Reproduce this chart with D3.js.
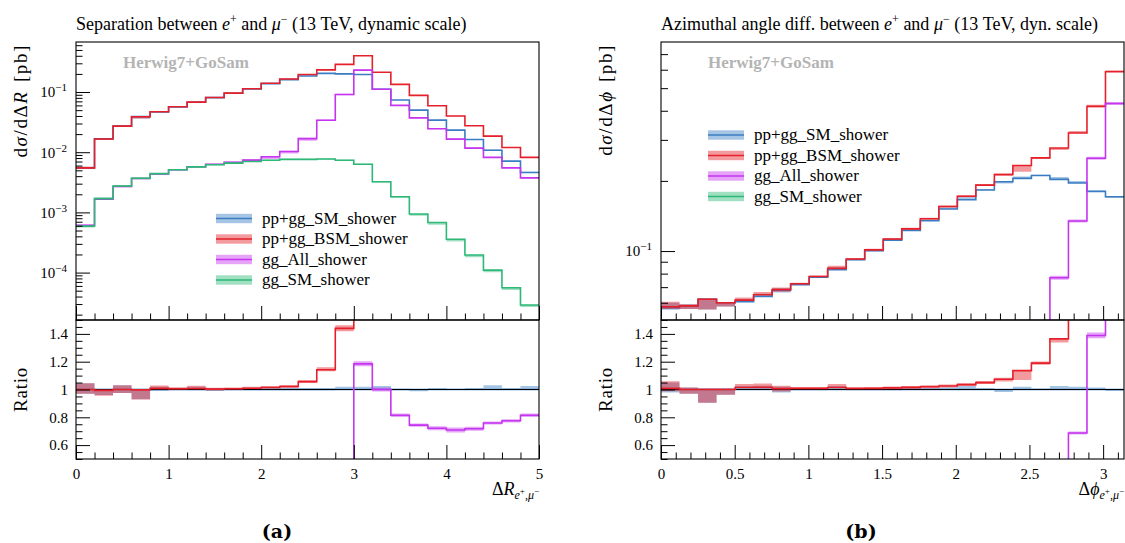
<!DOCTYPE html>
<html>
<head>
<meta charset="utf-8">
<script src="https://cdn.jsdelivr.net/npm/d3@7"></script>
<style>
  html, body { margin: 0; padding: 0; background: #fff; }
  svg { display: block; }
  text { font-family: "Liberation Serif", "DejaVu Serif", serif; fill: #000; }
</style>
</head>
<body>
<svg id="fig" width="1125" height="543"></svg>
<script>
// ---------------- data ----------------
const seriesNames = ["pp+gg_SM_shower", "pp+gg_BSM_shower", "gg_All_shower", "gg_SM_shower"];

// ΔR(e+, μ−) distribution, bin edges and dσ/dΔR [pb]
const dREdges = [0, 0.2, 0.4, 0.6, 0.8, 1.0, 1.2, 1.4, 1.6, 1.8, 2.0, 2.2, 2.4, 2.6, 2.8, 3.0,
                 3.2, 3.4, 3.6, 3.8, 4.0, 4.2, 4.4, 4.6, 4.8, 5.0];
const smDR    = [0.0055, 0.0167, 0.0271, 0.0390, 0.0466, 0.0567, 0.0675, 0.0808, 0.0955, 0.1125,
                 0.138, 0.161, 0.185, 0.204, 0.200, 0.195, 0.111, 0.0736, 0.0500, 0.0341,
                 0.0233, 0.0163, 0.0108, 0.0071, 0.0046];
const bsmDR   = [0.0055, 0.0166, 0.0271, 0.0389, 0.0470, 0.0570, 0.0680, 0.0810, 0.0960, 0.1135,
                 0.140, 0.1645, 0.1955, 0.233, 0.288, 0.400, 0.213, 0.134, 0.088, 0.059,
                 0.040, 0.0275, 0.0185, 0.0120, 0.0082];
const ggAllDR = [0.00061, 0.00165, 0.0027, 0.00365, 0.00435, 0.0051, 0.00575, 0.0063, 0.0068, 0.0074,
                 0.0084, 0.0103, 0.0168, 0.034, 0.091, 0.231, 0.111, 0.060, 0.0372, 0.0246,
                 0.0165, 0.0117, 0.0082, 0.0055, 0.00375];
const ggSmDR  = [0.00059, 0.0017, 0.00275, 0.0037, 0.0044, 0.0051, 0.0057, 0.0062, 0.0066, 0.0070,
                 0.00735, 0.0076, 0.0076, 0.0077, 0.00735, 0.0063, 0.00323, 0.00182, 0.00094, 0.00068,
                 0.000357, 0.000196, 0.00011, 0.000056, 0.000029];
// scale-variation envelopes as [down, up] fractions of the central value
const smBandDR    = [[.03,.045],[.04,.005],[.025,.03],[.07,.005],[.01,.02],[.005,.01],[.005,.02],[.01,.01],[.005,.01],[.005,.01],
                     [.005,.01],[.005,.01],[.005,.01],[.005,.01],[0,.02],[0,.02],[0,.025],[.005,.005],[.012,0],[0,.01],
                     [0,.005],[0,.01],[0,.03],[0,.01],[0,.025]];
const bsmBandDR   = [[.03,.045],[.04,.005],[.025,.03],[.07,.005],[.01,.02],[.005,.01],[.005,.02],[.01,.01],[.005,.01],[.005,.01],
                     [.005,.01],[.01,.01],[.01,.01],[.01,.015],[.015,.015],[.01,.02],[.01,.01],[.01,.01],[.01,.01],[.01,.01],
                     [.01,.01],[.01,.01],[.01,.01],[.01,.01],[.01,.01]];
const ggAllBandDR = [[.03,.03],[.03,.03],[.03,.03],[.03,.03],[.03,.03],[.02,.02],[.02,.02],[.02,.02],[.05,.03],[.06,.03],
                     [.08,.02],[.08,.03],[.08,.04],[.03,.03],[.03,.03],[.015,.015],[.015,.015],[.015,.015],[.015,.015],[.02,.02],
                     [.025,.025],[.02,.02],[.015,.015],[.015,.015],[.015,.015]];
const ggSmBandDR  = [[.05,.05],[.05,.05],[.04,.04],[.04,.04],[.02,.02],[.02,.02],[.02,.02],[.02,.02],[.02,.02],[.02,.02],
                     [.02,.02],[.02,.02],[.02,.02],[.02,.02],[.02,.02],[.02,.02],[.03,.01],[.04,0],[.06,0],[.08,0],
                     [.08,0],[.08,0],[.08,0],[.08,0],[.08,0]];

// Δφ(e+, μ−) distribution, 25 equal bins on [0, π], dσ/dΔφ [pb]
const dPhiEdges = d3.range(26).map(k => k * Math.PI / 25);
const smDPhi    = [0.0572, 0.0582, 0.0621, 0.0600, 0.0607, 0.0639, 0.0679, 0.0718, 0.0772, 0.0831,
                   0.0918, 0.1004, 0.1114, 0.1226, 0.1350, 0.1515, 0.1660, 0.1828, 0.1983, 0.2050,
                   0.2110, 0.2030, 0.1960, 0.1800, 0.1710];
const bsmDPhi   = [0.0577, 0.0582, 0.0621, 0.0600, 0.0616, 0.0649, 0.0684, 0.0724, 0.0778, 0.0843,
                   0.0925, 0.1012, 0.1127, 0.1245, 0.1377, 0.1553, 0.1718, 0.1919, 0.2130, 0.2329,
                   0.2510, 0.2770, 0.3210, 0.4180, 0.5880];
const ggAllDPhi = [0.0061, 0.0062, 0.0064, 0.0066, 0.0068, 0.0071, 0.0075, 0.0079, 0.0084, 0.0090,
                   0.0097, 0.0106, 0.0117, 0.0131, 0.0149, 0.0172, 0.0203, 0.0245, 0.0302, 0.0378,
                   0.0475, 0.0768, 0.1346, 0.250, 0.430];
const ggSmDPhi  = [0.0060, 0.0061, 0.0062, 0.0064, 0.0066, 0.0068, 0.0071, 0.0074, 0.0078, 0.0082,
                   0.0087, 0.0092, 0.0098, 0.0104, 0.0110, 0.0116, 0.0121, 0.0126, 0.0130, 0.0133,
                   0.0135, 0.0136, 0.0135, 0.0133, 0.0131];
const smBandDPhi    = [[.022,.05],[.03,.015],[.096,.007],[.037,.007],[0,.025],[0,.027],[.022,.02],[.005,.01],[.005,.01],[0,.025],
                       [.005,.01],[.005,.01],[.005,.01],[0,.01],[0,.01],[0,.015],[0,.025],[0,.01],[.018,0],[0,.02],
                       [0,.007],[0,.025],[0,.02],[0,.015],[.01,0]];
const bsmBandDPhi   = [[.022,.05],[.03,.015],[.096,.007],[.037,.007],[0,.025],[0,.027],[.022,.02],[.005,.01],[.005,.01],[0,.025],
                       [.005,.01],[.005,.01],[.01,.01],[.01,.01],[.01,.01],[.01,.01],[.01,.01],[.01,.01],[.015,.01],[.06,0],
                       [.01,.01],[.02,0],[0,.02],[.015,.015],[0,.015]];
const ggAllBandDPhi = [[.02,.02],[.02,.02],[.02,.02],[.02,.02],[.02,.02],[.02,.02],[.02,.02],[.02,.02],[.02,.02],[.02,.02],
                       [.02,.02],[.02,.02],[.02,.02],[.02,.02],[.02,.02],[.02,.02],[.02,.02],[.02,.02],[.02,.02],[.02,.02],
                       [.02,.02],[.02,.02],[.015,.015],[.015,.015],[.015,.015]];
const ggSmBandDPhi  = [[.03,.03],[.03,.03],[.03,.03],[.03,.03],[.03,.03],[.03,.03],[.03,.03],[.03,.03],[.03,.03],[.03,.03],
                       [.03,.03],[.03,.03],[.03,.03],[.03,.03],[.03,.03],[.03,.03],[.03,.03],[.03,.03],[.03,.03],[.03,.03],
                       [.03,.03],[.03,.03],[.03,.03],[.03,.03],[.03,.03]];

// tick values
const dRTicks    = [0, 1, 2, 3, 4, 5];
const dPhiTicks  = [0, 0.5, 1, 1.5, 2, 2.5, 3];
const ratioTicks = [0.6, 0.8, 1, 1.2, 1.4];

// ---------------- style ----------------
const seriesColors = ["#3a7cc2", "#e5202a", "#c535f0", "#2db877"];
const SERIF = '"Liberation Serif", "DejaVu Serif", serif';
const FS_TICK = 15, FS_LEG = 17, FS_LAB = 18;

const svg = d3.select("#fig");

// Append a text made of styled runs: italic, size and vertical shift (px, downwards)
function rich(sel, parts) {
  let prev = 0;
  parts.forEach(p => {
    const s = p.shift || 0;
    const ts = sel.append("tspan").text(p.t);
    if (s !== prev) ts.attr("dy", s - prev);
    if (p.size) ts.attr("font-size", p.size);
    if (p.i) ts.attr("font-style", "italic");
    if (p.dx) ts.attr("dx", p.dx);
    prev = s;
  });
  return sel;
}

function stepPoints(edges, vals) {
  const pts = vals.map((v, i) => [edges[i], v]);
  pts.push([edges[edges.length - 1], vals[vals.length - 1]]);
  return pts;
}

function drawPanel(cfg) {
  const { x0, x1, top, mid, bot, id } = cfg;
  const x = d3.scaleLinear().domain(cfg.xDomain).range([x0, x1]);
  const y = d3.scaleLog().domain(cfg.yDomain).range([mid, top]);
  const yr = d3.scaleLinear().domain([0.5, 1.5]).range([bot, mid]);
  const g = svg.append("g");

  const defs = g.append("defs");
  defs.append("clipPath").attr("id", id + "-main")
    .append("rect").attr("x", x0).attr("y", top).attr("width", x1 - x0).attr("height", mid - top);
  defs.append("clipPath").attr("id", id + "-ratio")
    .append("rect").attr("x", x0).attr("y", mid).attr("width", x1 - x0).attr("height", bot - mid);

  const mainG = g.append("g").attr("clip-path", `url(#${id}-main)`);
  const ratioG = g.append("g").attr("clip-path", `url(#${id}-ratio)`);

  const edges = cfg.edges;
  const ref = cfg.series[0].vals;

  function drawHist(layer, ys, vals, lo, hi, color) {
    const pts = stepPoints(edges, vals);
    const loPts = stepPoints(edges, lo);
    const hiPts = stepPoints(edges, hi);
    const area = d3.area()
      .x(d => x(d[0]))
      .y0((d, i) => ys(loPts[i][1]))
      .y1((d, i) => ys(hiPts[i][1]))
      .curve(d3.curveStepAfter);
    layer.append("path").datum(pts).attr("d", area)
      .attr("fill", color).attr("fill-opacity", 0.45).attr("stroke", "none");
    const line = d3.line().x(d => x(d[0])).y(d => ys(d[1])).curve(d3.curveStepAfter);
    layer.append("path").datum(pts).attr("d", line)
      .attr("fill", "none").attr("stroke", color).attr("stroke-width", 1.6);
  }

  // main distributions
  cfg.series.forEach((s, k) => {
    const lo = s.vals.map((v, i) => v * (1 - s.band[i][0]));
    const hi = s.vals.map((v, i) => v * (1 + s.band[i][1]));
    drawHist(mainG, y, s.vals, lo, hi, seriesColors[k]);
  });

  // ratios to the SM prediction
  cfg.series.forEach((s, k) => {
    const r = s.vals.map((v, i) => v / ref[i]);
    const lo = s.vals.map((v, i) => v * (1 - s.band[i][0]) / ref[i]);
    const hi = s.vals.map((v, i) => v * (1 + s.band[i][1]) / ref[i]);
    drawHist(ratioG, yr, r, lo, hi, seriesColors[k]);
    if (k === 0) {
      ratioG.append("line").attr("x1", x0).attr("x2", x1)
        .attr("y1", yr(1)).attr("y2", yr(1)).attr("stroke", "#000").attr("stroke-width", 1);
    }
  });

  // ----- axes -----
  const axG = g.append("g");
  const yTicks = y.ticks();
  const yMajor = yTicks.filter(t => Math.abs(Math.log10(t) - Math.round(Math.log10(t))) < 1e-6);
  const yMinor = yTicks.filter(t => !yMajor.includes(t));
  axG.append("g").attr("transform", `translate(${x0},0)`)
    .call(d3.axisLeft(y).tickValues(yMinor).tickSizeInner(-cfg.minorLen).tickSizeOuter(0).tickFormat(""));
  const yMajAx = axG.append("g").attr("transform", `translate(${x0},0)`)
    .call(d3.axisLeft(y).tickValues(yMajor).tickSizeInner(-14).tickSizeOuter(0).tickPadding(9).tickFormat(""));
  yMajAx.selectAll(".tick text").each(function (d) {
    const e = Math.round(Math.log10(d));
    rich(d3.select(this), [{ t: "10" }, { t: "\u2212" + Math.abs(e), size: 11, shift: -6 }]);
  });

  // ratio y axis
  const rMinor = d3.range(0.5, 1.5001, 0.05).filter(t => !ratioTicks.some(m => Math.abs(m - t) < 1e-6));
  axG.append("g").attr("transform", `translate(${x0},0)`)
    .call(d3.axisLeft(yr).tickValues(rMinor).tickSizeInner(-6.5).tickSizeOuter(0).tickFormat(""));
  axG.append("g").attr("transform", `translate(${x0},0)`)
    .call(d3.axisLeft(yr).tickValues(ratioTicks).tickSizeInner(-14).tickSizeOuter(0).tickPadding(8)
      .tickFormat(d => String(d)));

  // x axes (bottom of main panel and of ratio panel)
  const xMinor = cfg.xMinor.filter(t => !cfg.xTicks.some(m => Math.abs(m - t) < 1e-6));
  [mid, bot].forEach((yy, j) => {
    axG.append("g").attr("transform", `translate(0,${yy})`)
      .call(d3.axisBottom(x).tickValues(xMinor).tickSizeInner(-6.5).tickSizeOuter(0).tickFormat(""));
    axG.append("g").attr("transform", `translate(0,${yy})`)
      .call(d3.axisBottom(x).tickValues(cfg.xTicks).tickSizeInner(-14).tickSizeOuter(0).tickPadding(9)
        .tickFormat(j === 1 ? (d => String(d)) : ""));
  });
  axG.selectAll(".domain").remove();
  axG.selectAll("g").attr("font-family", null).attr("font-size", null);
  axG.selectAll(".tick line").attr("stroke", "#000").attr("stroke-width", 1);
  axG.selectAll(".tick text").attr("font-size", FS_TICK).style("font-family", SERIF).attr("fill", "#000");

  // frames
  g.append("rect").attr("x", x0).attr("y", top).attr("width", x1 - x0).attr("height", mid - top)
    .attr("fill", "none").attr("stroke", "#000").attr("stroke-width", 1.1);
  g.append("rect").attr("x", x0).attr("y", mid).attr("width", x1 - x0).attr("height", bot - mid)
    .attr("fill", "none").attr("stroke", "#000").attr("stroke-width", 1.1);

  // title
  rich(g.append("text").attr("x", x0).attr("y", 30).attr("font-size", FS_LAB), cfg.title);

  // generator tag
  g.append("text").attr("x", cfg.tag[0]).attr("y", cfg.tag[1]).attr("font-size", 17)
    .attr("font-weight", "bold").style("fill", "#b4b4b4").text("Herwig7+GoSam");

  // y labels
  rich(g.append("text").attr("transform", `translate(${cfg.ylabX},44) rotate(-90)`)
    .attr("text-anchor", "end").attr("font-size", 19).attr("letter-spacing", 1.6), cfg.ylabel);
  g.append("text").attr("transform", `translate(${cfg.ylabX},${yr(1)}) rotate(-90)`)
    .attr("text-anchor", "middle").attr("font-size", 19).attr("letter-spacing", 0.8).text("Ratio");

  // x label
  rich(g.append("text").attr("x", x1).attr("y", 495).attr("text-anchor", "end").attr("font-size", FS_LAB), cfg.xlabel);

  // legend
  const leg = g.append("g");
  cfg.series.forEach((s, k) => {
    const cy = cfg.leg[1] + k * 20.5;
    leg.append("rect").attr("x", cfg.leg[0]).attr("y", cy - 4.7).attr("width", 36).attr("height", 9.4)
      .attr("fill", seriesColors[k]).attr("fill-opacity", 0.45);
    leg.append("line").attr("x1", cfg.leg[0]).attr("x2", cfg.leg[0] + 36).attr("y1", cy).attr("y2", cy)
      .attr("stroke", seriesColors[k]).attr("stroke-width", 1.6);
    leg.append("text").attr("x", cfg.leg[0] + 46).attr("y", cy + 5).attr("font-size", FS_LEG).text(s.name);
  });

  // caption
  g.append("text").attr("x", cfg.caption).attr("y", 538).attr("text-anchor", "middle")
    .attr("font-size", 19).attr("font-weight", "bold")
    .style("font-family", '"DejaVu Serif", serif').text(cfg.captionText);
}

const sub = 12, subSup = 9;
drawPanel({
  id: "dr", x0: 76, x1: 539, top: 42, mid: 320, bot: 459,
  xDomain: [0, 5], yDomain: [1.63e-5, 0.678],
  edges: dREdges,
  xTicks: dRTicks, xMinor: d3.range(0, 5.0001, 0.2), minorLen: 6.5,
  series: [
    { name: seriesNames[0], vals: smDR, band: smBandDR },
    { name: seriesNames[1], vals: bsmDR, band: bsmBandDR },
    { name: seriesNames[2], vals: ggAllDR, band: ggAllBandDR },
    { name: seriesNames[3], vals: ggSmDR, band: ggSmBandDR }
  ],
  title: [{ t: "Separation between " }, { t: "e", i: 1 }, { t: "+", size: 12, shift: -7 },
          { t: " and " }, { t: "\u03bc", i: 1 }, { t: "\u2212", size: 12, shift: -7 },
          { t: " (13 TeV, dynamic scale)" }],
  ylabel: [{ t: "d" }, { t: "\u03c3", i: 1 }, { t: "/d\u0394" }, { t: "R", i: 1 }, { t: " [pb]", dx: 2 }],
  xlabel: [{ t: "\u0394" }, { t: "R", i: 1 }, { t: "e", i: 1, size: sub, shift: 4 }, { t: "+", size: subSup, shift: -1 },
           { t: ",", size: sub, shift: 4 }, { t: "\u03bc", i: 1, size: sub, shift: 4 }, { t: "\u2212", size: subSup, shift: -1 }],
  ylabX: 27, tag: [123, 68], leg: [216, 218.5], caption: 277, captionText: "(a)"
});

drawPanel({
  id: "dphi", x0: 661, x1: 1124, top: 42, mid: 320, bot: 459,
  xDomain: [0, Math.PI], yDomain: [0.0506, 0.789],
  edges: dPhiEdges,
  xTicks: dPhiTicks, xMinor: d3.range(0, 3.1501, 0.1), minorLen: 7,
  series: [
    { name: seriesNames[0], vals: smDPhi, band: smBandDPhi },
    { name: seriesNames[1], vals: bsmDPhi, band: bsmBandDPhi },
    { name: seriesNames[2], vals: ggAllDPhi, band: ggAllBandDPhi },
    { name: seriesNames[3], vals: ggSmDPhi, band: ggSmBandDPhi }
  ],
  title: [{ t: "Azimuthal angle diff. between " }, { t: "e", i: 1 }, { t: "+", size: 12, shift: -7 },
          { t: " and " }, { t: "\u03bc", i: 1 }, { t: "\u2212", size: 12, shift: -7 },
          { t: " (13 TeV, dyn. scale)" }],
  ylabel: [{ t: "d" }, { t: "\u03c3", i: 1 }, { t: "/d\u0394" }, { t: "\u03d5", i: 1 }, { t: " [pb]", dx: 2 }],
  xlabel: [{ t: "\u0394" }, { t: "\u03d5", i: 1 }, { t: "e", i: 1, size: sub, shift: 4 }, { t: "+", size: subSup, shift: -1 },
           { t: ",", size: sub, shift: 4 }, { t: "\u03bc", i: 1, size: sub, shift: 4 }, { t: "\u2212", size: subSup, shift: -1 }],
  ylabX: 612, tag: [708, 68], leg: [708, 135], caption: 861, captionText: "(b)"
});
</script>
</body>
</html>
